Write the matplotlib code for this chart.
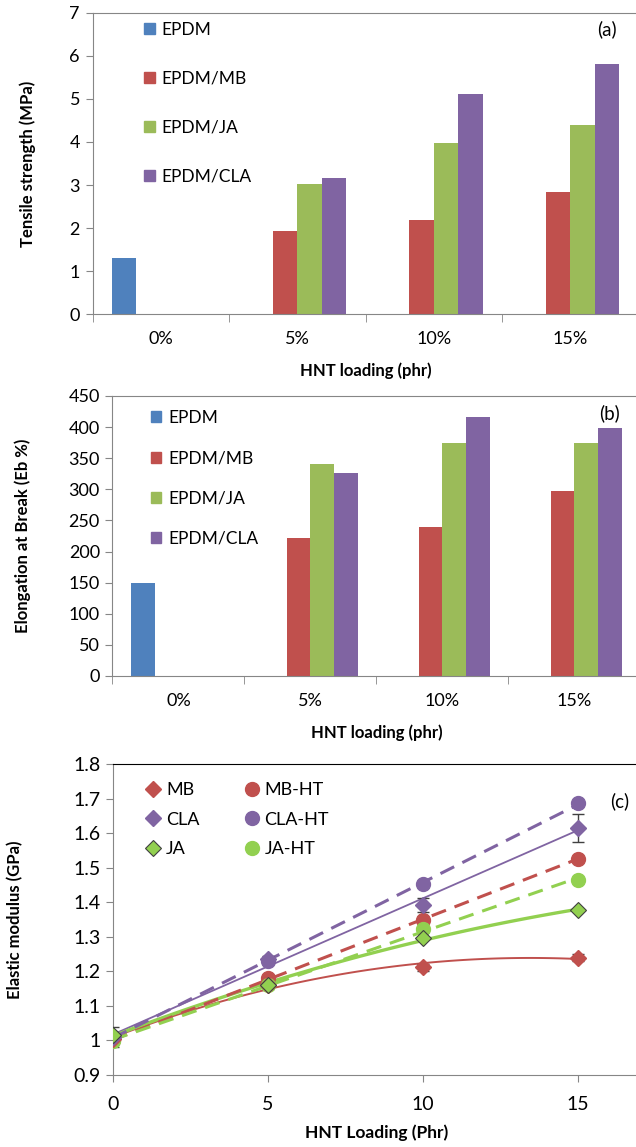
import numpy as np
import matplotlib.pyplot as plt
from matplotlib.patches import Patch
from matplotlib.lines import Line2D

plt.rcParams['font.family'] = ['Lato', 'DejaVu Sans']
plt.rcParams['font.size'] = 12

# --- data -------------------------------------------------------------
categories = ['0%', '5%', '10%', '15%']
bar_series = ['EPDM', 'EPDM/MB', 'EPDM/JA', 'EPDM/CLA']
bar_colors = ['#4F81BD', '#C0504D', '#9BBB59', '#8064A2']

tensile = [
    [1.31, 0, 0, 0],        # EPDM
    [0, 1.93, 2.20, 2.85],  # EPDM/MB
    [0, 3.03, 3.98, 4.39],  # EPDM/JA
    [0, 3.17, 5.12, 5.81],  # EPDM/CLA
]
elongation = [
    [150, 0, 0, 0],
    [0, 222, 240, 298],
    [0, 341, 375, 375],
    [0, 327, 417, 398],
]

loading = [0, 5, 10, 15]
mb = [1.005, 1.16, 1.212, 1.24]
mb_ht = [1.0, 1.18, 1.349, 1.526]
cla = [1.01, 1.235, 1.392, 1.615]
cla_ht = [1.01, 1.23, 1.453, 1.687]
ja = [1.015, 1.161, 1.296, 1.378]
ja_ht = [0.998, 1.16, 1.323, 1.465]
cla_err = [0.03, 0.01, 0.02, 0.04]
mb_err = [0.01, 0.01, 0.01, 0.01]

W, H = 636, 1147
fig = plt.figure(figsize=(W / 100, H / 100), dpi=100)


def pos(left, top, right, bottom):
    return [left / W, 1 - bottom / H, (right - left) / W, (bottom - top) / H]


def bar_panel(ax, data, ylim, ystep, ylabel, ylab_x, leg_anchor, spacing):
    x = np.arange(len(categories))
    w = 0.18
    for i, (name, vals) in enumerate(zip(bar_series, data)):
        ax.bar(x + (i - 1.5) * w, vals, w, color=bar_colors[i], label=name)
    ax.set_xlim(-0.5, 3.5)
    ax.set_ylim(*ylim)
    ax.set_yticks(np.arange(ylim[0], ylim[1] + 1e-9, ystep))
    ax.set_xticks(x)
    ax.set_xticklabels(categories)
    ax.set_xticks(np.arange(-0.5, 3.6, 1), minor=True)
    ax.tick_params(axis='x', which='major', length=0, pad=12, labelsize=13)
    ax.tick_params(axis='x', which='minor', length=6, direction='out', color='#868686')
    ax.tick_params(axis='y', length=5, color='#868686', pad=4, labelsize=13)
    for s in ['left', 'bottom', 'top']:
        ax.spines[s].set_color('#868686')
    ax.spines['right'].set_visible(False)
    ax.set_xlabel('HNT loading (phr)', fontweight='bold', labelpad=11)
    ax.set_ylabel(ylabel, fontweight='bold', fontsize=12)
    ax.yaxis.set_label_coords(ylab_x, 0.5)
    handles = [Patch(color=c) for c in bar_colors]
    ax.legend(handles, bar_series, loc='upper left', bbox_to_anchor=leg_anchor,
              frameon=False, handlelength=0.6, handleheight=0.6,
              handletextpad=0.4, labelspacing=spacing, borderpad=0,
              borderaxespad=0, fontsize=12.5)


ax1 = fig.add_axes(pos(92.5, 12.7, 638.5, 314.3))
bar_panel(ax1, tensile, (0, 7), 1, 'Tensile strength (MPa)', -0.103, (0.095, 0.97), 1.9)
fig.text(607 / W, 1 - 29 / H, '(a)', ha='center', va='center', fontsize=13.5)

ax2 = fig.add_axes(pos(112.4, 396, 640.4, 676))
bar_panel(ax2, elongation, (0, 450), 50, 'Elongation at Break (Eb %)', -0.155, (0.073, 0.95), 1.4)
fig.text(610 / W, 1 - 413 / H, '(b)', ha='center', va='center', fontsize=13.5)

# --- panel (c) ---------------------------------------------------------
ax3 = fig.add_axes(pos(112.8, 764.3, 639.8, 1075))
red, purple, green = '#C0504D', '#8064A2', '#92D050'
xs = np.array(loading, dtype=float)
xf = np.linspace(0, 15, 100)


def trend(y, deg):
    return np.polyval(np.polyfit(xs, y, deg), xf)


ax3.plot(xf, trend(mb, 2), color=red, lw=1.4, zorder=2)
ax3.plot(xf, trend(cla, 1), color=purple, lw=1.3, zorder=2)
ax3.plot(xf, trend(ja, 2), color=green, lw=2.4, zorder=2)
ax3.plot(xf, trend(mb_ht, 1), color=red, lw=2.2, ls=(0, (5, 3)), zorder=2)
ax3.plot(xf, trend(cla_ht, 1), color=purple, lw=2.2, ls=(0, (5, 3)), zorder=2)
ax3.plot(xf, trend(ja_ht, 1), color=green, lw=2.2, ls=(0, (5, 3)), zorder=2)

ax3.errorbar(xs, cla, yerr=cla_err, fmt='none', ecolor='#404040', elinewidth=1,
             capsize=4, zorder=3)
ax3.errorbar(xs, mb, yerr=mb_err, fmt='none', ecolor='#404040', elinewidth=1,
             capsize=4, zorder=3)

ax3.plot(xs, mb_ht, 'o', color=red, ms=10, zorder=4)
ax3.plot(xs, cla_ht, 'o', color=purple, ms=10, zorder=4)
ax3.plot(xs, ja_ht, 'o', color=green, ms=10, zorder=4)
ax3.plot(xs, mb, 'D', color=red, ms=8, zorder=5)
ax3.plot(xs, cla, 'D', color=purple, ms=8, zorder=5)
ax3.plot(xs, ja, 'D', color=green, mec='#404040', mew=0.8, ms=8, zorder=5)

ax3.set_xlim(0, 17)
ax3.set_ylim(0.9, 1.8)
ax3.set_xticks([0, 5, 10, 15])
ax3.set_yticks(np.arange(0.9, 1.81, 0.1))
ax3.set_yticklabels(['0.9', '1', '1.1', '1.2', '1.3', '1.4', '1.5', '1.6', '1.7', '1.8'])
ax3.tick_params(axis='x', length=5, pad=10, color='#868686', labelsize=14)
ax3.tick_params(axis='y', length=5, pad=4, color='#868686', labelsize=14)
ax3.spines['right'].set_visible(False)
ax3.spines['left'].set_color('#868686')
ax3.spines['bottom'].set_color('#868686')
ax3.set_xlabel('HNT Loading (Phr)', fontweight='bold', fontsize=12.5, labelpad=8)
ax3.set_ylabel('Elastic modulus (GPa)', fontweight='bold', fontsize=12)
ax3.yaxis.set_label_coords(-0.17, 0.5)

leg_handles = [
    Line2D([], [], ls='none', marker='D', color=red, ms=8),
    Line2D([], [], ls='none', marker='D', color=purple, ms=8),
    Line2D([], [], ls='none', marker='D', color=green, mec='#404040', mew=0.8, ms=8),
    Line2D([], [], ls='none', marker='o', color=red, ms=10),
    Line2D([], [], ls='none', marker='o', color=purple, ms=10),
    Line2D([], [], ls='none', marker='o', color=green, ms=10),
]
leg_labels = ['MB', 'CLA', 'JA', 'MB-HT', 'CLA-HT', 'JA-HT']
ax3.legend(leg_handles, leg_labels, ncol=2, loc='upper left',
           bbox_to_anchor=(0.06, 0.943), frameon=False, handlelength=1.0,
           handletextpad=0.2, labelspacing=0.75, columnspacing=2.4,
           borderpad=0, borderaxespad=0, fontsize=13)
fig.text(620 / W, 1 - 801 / H, '(c)', ha='center', va='center', fontsize=13.5)

fig.savefig('out.png', dpi=100)
